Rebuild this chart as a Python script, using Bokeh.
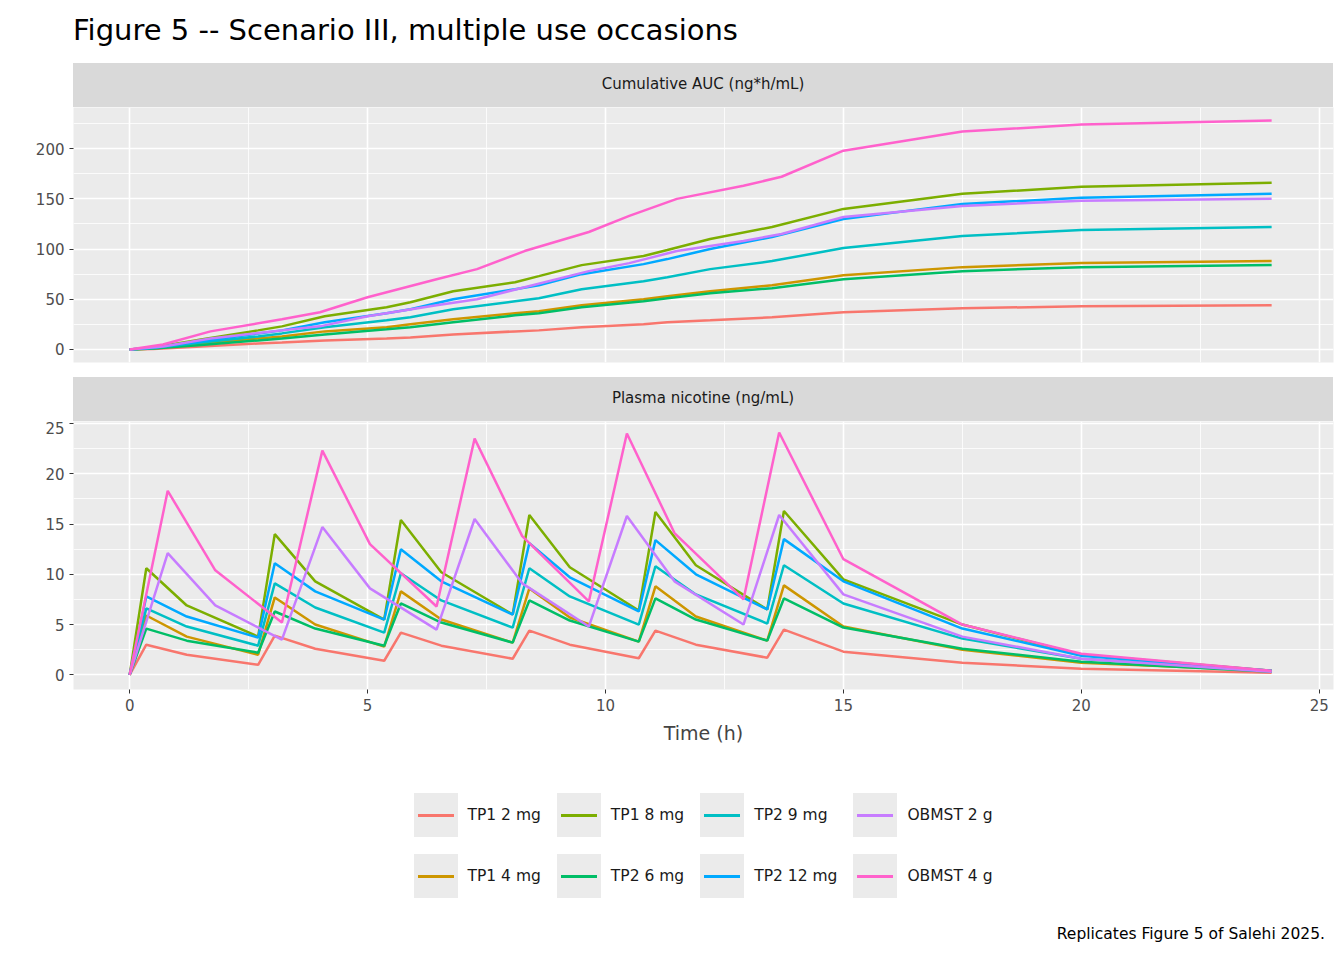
from bokeh.plotting import figure
from bokeh.models import Div, Range1d, FixedTicker
from bokeh.layouts import column
from bokeh.embed import file_html
from bokeh.resources import INLINE

products = ["TP1 2 mg", "TP1 4 mg", "TP1 8 mg", "TP2 6 mg", "TP2 9 mg", "TP2 12 mg", "OBMST 2 g", "OBMST 4 g"]
colors = ["#F8766D", "#CD9600", "#7CAE00", "#00BE67", "#00BFC4", "#00A9FF", "#C77CFF", "#FF61CC"]

# Plasma nicotine (ng/mL)
tp_t = [0, 0.35, 1.2, 2.7, 3.05, 3.9, 5.35, 5.7, 6.55, 8.05, 8.4, 9.25, 10.7, 11.05, 11.9, 13.4, 13.75, 15, 17.5, 20, 24]
ob_t = [0, 0.8, 1.8, 3.2, 4.05, 5.05, 6.45, 7.25, 8.25, 9.65, 10.45, 11.45, 12.9, 13.65, 15, 17.5, 20, 24]
conc = {
    "TP1 2 mg": [0, 3.0, 2.0, 1.0, 3.9, 2.6, 1.4, 4.2, 2.9, 1.6, 4.4, 3.0, 1.65, 4.4, 3.0, 1.7, 4.5, 2.3, 1.2, 0.6, 0.2],
    "TP1 4 mg": [0, 5.9, 3.8, 2.0, 7.7, 5.0, 2.8, 8.3, 5.5, 3.2, 8.6, 5.7, 3.3, 8.8, 5.8, 3.4, 8.9, 4.8, 2.5, 1.2, 0.4],
    "TP1 8 mg": [0, 10.6, 6.9, 3.8, 14.0, 9.3, 5.5, 15.4, 10.2, 6.0, 15.9, 10.7, 6.4, 16.2, 10.9, 6.5, 16.3, 9.5, 5.0, 2.0, 0.4],
    "TP2 6 mg": [0, 4.6, 3.4, 2.2, 6.3, 4.6, 2.9, 7.1, 5.2, 3.2, 7.4, 5.4, 3.3, 7.6, 5.5, 3.4, 7.6, 4.7, 2.6, 1.3, 0.3],
    "TP2 9 mg": [0, 6.6, 4.8, 2.9, 9.1, 6.7, 4.2, 10.1, 7.4, 4.7, 10.6, 7.8, 5.0, 10.8, 8.0, 5.1, 10.9, 7.1, 3.6, 1.6, 0.4],
    "TP2 12 mg": [0, 7.8, 5.8, 3.7, 11.1, 8.3, 5.5, 12.5, 9.3, 6.0, 13.1, 9.7, 6.3, 13.4, 10.0, 6.5, 13.5, 9.3, 4.6, 1.9, 0.4],
    "OBMST 2 g": [0, 12.1, 6.9, 3.5, 14.7, 8.6, 4.5, 15.5, 9.1, 4.8, 15.8, 9.3, 5.0, 15.9, 8.0, 3.8, 1.6, 0.3],
    "OBMST 4 g": [0, 18.3, 10.4, 5.2, 22.3, 13.0, 6.8, 23.5, 13.8, 7.3, 24.0, 14.1, 7.5, 24.1, 11.5, 5.0, 2.1, 0.4],
}
# Cumulative AUC (ng*h/mL)
auc_tp_t = [0, 0.5, 1.5, 2.7, 3.2, 4.1, 5.4, 5.9, 6.8, 8.1, 8.6, 9.5, 10.8, 11.3, 12.2, 13.5, 15, 17.5, 20, 24]
auc_ob_t = [0, 0.7, 1.7, 3.2, 4.0, 5.0, 6.45, 7.3, 8.3, 9.65, 10.5, 11.5, 12.9, 13.7, 15, 17.5, 20, 24]
auc = {
    "TP1 2 mg": [0, 0.5, 3, 6, 7, 9, 11, 12, 15, 18, 19, 22, 25, 27, 29, 32, 37, 41, 43, 44],
    "TP1 4 mg": [0, 1, 6, 11, 13, 18, 22, 25, 30, 36, 38, 44, 50, 53, 58, 64, 74, 82, 86, 88],
    "TP1 8 mg": [0, 2, 10, 19, 23, 33, 42, 47, 58, 67, 73, 84, 93, 99, 110, 122, 140, 155, 162, 166],
    "TP2 6 mg": [0, 1, 4.5, 9, 11, 15, 20, 22, 27, 34, 36, 42, 48, 51, 56, 61, 70, 78, 82, 84],
    "TP2 9 mg": [0, 1.5, 7, 13, 16, 22, 29, 32, 40, 48, 51, 60, 68, 72, 80, 88, 101, 113, 119, 122],
    "TP2 12 mg": [0, 2, 8, 16, 19, 27, 36, 40, 50, 60, 64, 75, 85, 90, 100, 112, 130, 145, 151, 155],
    "OBMST 2 g": [0, 3, 11, 19, 23, 33, 44, 50, 62, 78, 86, 98, 108, 115, 132, 143, 148, 150],
    "OBMST 4 g": [0, 5, 18, 30, 37, 52, 70, 80, 98, 117, 133, 150, 163, 172, 198, 217, 224, 228],
}
x_ticks = [0, 5, 10, 15, 20, 25]
auc_ticks = [0, 50, 100, 150, 200]
conc_ticks = [0, 5, 10, 15, 20, 25]
legend_order = ["TP1 2 mg", "TP1 8 mg", "TP2 9 mg", "OBMST 2 g", "TP1 4 mg", "TP2 6 mg", "TP2 12 mg", "OBMST 4 g"]

FONT = "DejaVu Sans"
LEFT = 73

def style(p, yticks, show_x):
    p.background_fill_color = "#EBEBEB"
    p.outline_line_color = None
    p.xgrid.grid_line_color = "white"; p.ygrid.grid_line_color = "white"
    p.xgrid.grid_line_width = 1.6; p.ygrid.grid_line_width = 1.6
    p.xgrid.minor_grid_line_color = "white"; p.ygrid.minor_grid_line_color = "white"
    p.xgrid.minor_grid_line_width = 0.8; p.ygrid.minor_grid_line_width = 0.8
    p.xaxis.ticker = FixedTicker(ticks=x_ticks, minor_ticks=[2.5, 7.5, 12.5, 17.5, 22.5])
    step = yticks[1] - yticks[0]
    p.yaxis.ticker = FixedTicker(ticks=yticks, minor_ticks=[t + step / 2 for t in yticks])
    for ax in p.xaxis + p.yaxis:
        ax.axis_line_color = None
        ax.major_tick_line_color = "#333333"
        ax.major_tick_out = 4; ax.major_tick_in = 0
        ax.minor_tick_line_color = None
        ax.major_label_text_font = FONT
        ax.major_label_text_font_size = "15px"
        ax.major_label_text_color = "#4D4D4D"
    if not show_x:
        p.xaxis.visible = False

def strip(text):
    return Div(text=text, width=1260, height=44, margin=(0, 0, 0, LEFT),
               styles={"background-color": "#D9D9D9", "font-family": FONT, "font-size": "15px",
                       "color": "#1A1A1A", "display": "flex", "align-items": "center",
                       "justify-content": "center"})

title = Div(text="Figure 5 -- Scenario III, multiple use occasions", width=1300, height=63,
            margin=(0, 0, 0, LEFT),
            styles={"font-family": FONT, "font-size": "29px", "color": "black", "padding-top": "10px"})

p1 = figure(width=1336, height=270, output_backend="svg", toolbar_location=None,
            x_range=Range1d(-1.18, 25.3), y_range=Range1d(-13, 241),
            min_border_left=LEFT, min_border_right=3, min_border_top=0, min_border_bottom=15)
style(p1, auc_ticks, False)

p2 = figure(width=1336, height=325, output_backend="svg", toolbar_location=None,
            x_range=Range1d(-1.18, 25.3), y_range=Range1d(-1.46, 25.2),
            min_border_left=LEFT, min_border_right=3, min_border_top=0)
style(p2, conc_ticks, True)
p2.xaxis.axis_label = "Time (h)"
p2.xaxis.axis_label_text_font = FONT
p2.xaxis.axis_label_text_font_size = "19px"
p2.xaxis.axis_label_text_font_style = "normal"
p2.xaxis.axis_label_standoff = 8

for name, c in zip(products, colors):
    tt = ob_t if name.startswith("OBMST") else tp_t
    at = auc_ob_t if name.startswith("OBMST") else auc_tp_t
    p1.line(at, auc[name], line_color=c, line_width=2.5)
    p2.line(tt, conc[name], line_color=c, line_width=2.5)

cmap = dict(zip(products, colors))
cells = []
for n in legend_order:
    cells.append(
        f'<div style="display:flex;align-items:center;">'
        f'<div style="width:44px;height:44px;background:#EBEBEB;display:flex;align-items:center;justify-content:center;">'
        f'<div style="width:36px;height:3px;background:{cmap[n]};"></div></div>'
        f'<span style="margin-left:10px;font-family:{FONT};font-size:15.5px;color:#1A1A1A;">{n}</span></div>')
legend_html = ('<div style="display:grid;grid-template-columns:repeat(4,auto);column-gap:16px;row-gap:17px;">'
               + "".join(cells) + "</div>")
legend = Div(text=legend_html, width=1336, height=150,
             styles={"display": "flex", "justify-content": "center", "padding-top": "42px", "padding-left": "60px"})
caption = Div(text="Replicates Figure 5 of Salehi 2025.", width=1320, height=40,
              styles={"font-family": FONT, "font-size": "15.5px", "text-align": "right", "color": "black",
                      "padding-top": "12px"})

layout = column(title, strip("Cumulative AUC (ng*h/mL)"), p1, strip("Plasma nicotine (ng/mL)"), p2,
                legend, caption, spacing=0)
open("out.html", "w").write(file_html(layout, INLINE))
